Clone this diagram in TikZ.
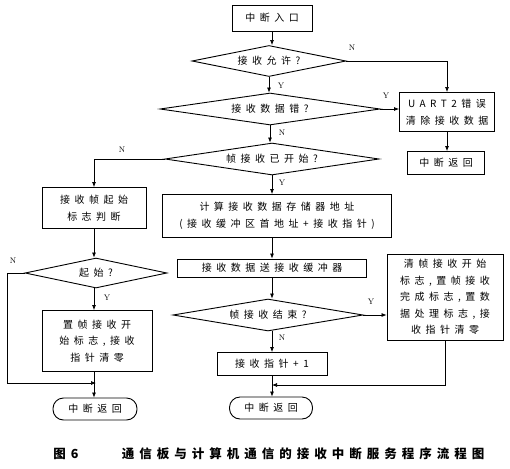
\documentclass[tikz,border=0pt]{standalone}
\usepackage{fontspec}
\usetikzlibrary{shapes.geometric,arrows.meta}
\newfontfamily\cjk[LetterSpace=45]{Noto Sans CJK SC}
\newfontfamily\capfont[LetterSpace=40]{Noto Sans CJK SC}
\begin{document}
\begin{tikzpicture}[x=1pt,y=-1pt,
  every node/.style={inner sep=0pt, align=center},
  txt/.style={font=\cjk\fontsize{10}{16.5}\selectfont},
  box/.style={draw, rectangle, line width=0.9pt, txt},
  dia/.style={draw, diamond, line width=0.9pt, txt},
  term/.style={draw, rectangle, rounded corners=10.5pt, line width=0.9pt, txt},
  lab/.style={font=\fontsize{8}{8}\selectfont},
  arr/.style={-{Latex[length=5pt,width=4pt]}, line width=0.7pt},
  ln/.style={line width=0.7pt}]
\useasboundingbox[fill=white] (0,0) rectangle (510,468);

% main column
\node[box, minimum width=80, minimum height=26] (top) at (272,18) {中断入口};
\node[dia, aspect=5, minimum width=154, minimum height=31] (d1) at (269,61) {接收允许?};
\node[dia, aspect=6.9, minimum width=220, minimum height=32] (d2) at (270,109) {接收数据错?};
\node[dia, aspect=6.7, minimum width=214, minimum height=32] (d3) at (272,159) {帧接收已开始?};
\node[box, minimum width=229, minimum height=43] (mb) at (277,216) {计算接收数据存储器地址\\(接收缓冲区首地址+接收指针)};
\node[box, minimum width=189, minimum height=18] (send) at (272,268) {接收数据送接收缓冲器};
\node[dia, aspect=5.9, minimum width=190, minimum height=32] (d4) at (268,315) {帧接收结束?};
\node[box, minimum width=110, minimum height=23] (inc) at (272,364) {接收指针+1};
\node[term, minimum width=83, minimum height=22] (ret2) at (271,408) {中断返回};

% right column
\node[box, minimum width=95, minimum height=39] (err) at (447,112) {UART2错误\\清除接收数据};
\node[box, minimum width=77, minimum height=23] (ret1) at (446,163) {中断返回};
\node[box, minimum width=116, minimum height=86] (rb) at (445,297) {清帧接收开始\\标志,置帧接收\\完成标志,置数\\据处理标志,接\\收指针清零};

% left column
\node[box, minimum width=104, minimum height=41] (lb1) at (94,208) {接收帧起始\\标志判断};
\node[dia, aspect=4.7, minimum width=142, minimum height=30] (ld) at (96,273) {起始?};
\node[box, minimum width=110, minimum height=61] (lb2) at (97,341) {置帧接收开\\始标志,接收\\指针清零};
\node[term, minimum width=84, minimum height=22] (ret3) at (95,409) {中断返回};

\coordinate (m2) at (272,385);
\coordinate (m1) at (96,383);
\coordinate (lc) at (7,383);

% connectors
\draw[arr] (top.south) -- (top.south |- d1.north);
\draw[arr] (d1.east) -| (err.north);
\draw[arr] (d1.south) -- (d1.south |- d2.north);
\draw[arr] (d2.east) -- (err.west |- d2.east);
\draw[arr] (d2.south) -- (d2.south |- d3.north);
\draw[arr] (err.south) -- (err.south |- ret1.north);
\draw[arr] (d3.west) -| (lb1.north);
\draw[arr] (d3.south) -- (d3.south |- mb.north);
\draw[arr] (d3.south |- mb.south) -- (d3.south |- send.north);
\draw[arr] (send.south) -- (send.south |- d4.north);
\draw[arr] (d4.east) -- (rb.west |- d4.east);
\draw[arr] (send.south |- d4.south) -- (send.south |- inc.north);
\draw[arr] (send.south |- inc.south) -- (send.south |- ret2.north);
\draw[arr] (rb.south) |- (m2);
\draw[arr] (lb1.south) -- (lb1.south |- ld.north);
\draw[arr] (lb1.south |- ld.south) -- (lb1.south |- lb2.north);
\draw[arr] (ld.west) -| (lc) -- (m1);
\draw[arr] (lb1.south |- lb2.south) -- (lb1.south |- ret3.north);

% labels
\node[lab] (l1) at (352,48) {N};
\node[lab] (l2) at (281,86) {Y};
\node[lab] (l3) at (386,96) {Y};
\node[lab] (l4) at (282,133) {N};
\node[lab] (l5) at (122,150) {N};
\node[lab] (l6) at (282,183) {Y};
\node[lab] (l7) at (13,261) {N};
\node[lab] (l8) at (107,298) {Y};
\node[lab] (l9) at (371,302) {Y};
\node[lab] (l10) at (282,338) {N};

% caption
\node[font=\capfont\bfseries\fontsize{12.5}{13}\selectfont] (cap1) at (66,454) {图6};
\node[font=\capfont\bfseries\fontsize{12.5}{13}\selectfont] (cap2) at (303,454) {通信板与计算机通信的接收中断服务程序流程图};
\end{tikzpicture}
\end{document}
